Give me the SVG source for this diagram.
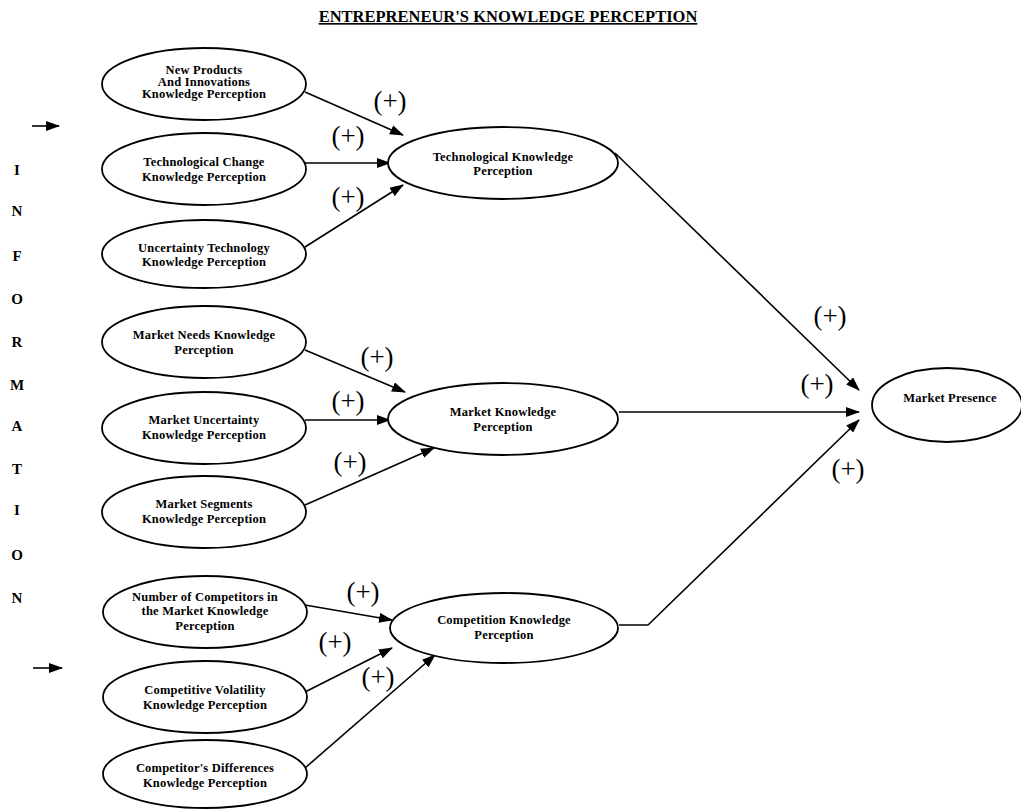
<svg xmlns="http://www.w3.org/2000/svg" width="1021" height="809" viewBox="0 0 1021 809">
<style>
.bg{fill:#fff}
.node ellipse{fill:#fff;stroke:#000;stroke-width:1.8}
.nt{font-family:"Liberation Serif","Times New Roman",serif;font-weight:bold;font-size:12.5px;letter-spacing:0.2px;fill:#000;text-anchor:middle}
.plus{font-family:"Liberation Serif","Times New Roman",serif;font-size:27px;fill:#000;text-anchor:middle}
.title{font-family:"Liberation Serif","Times New Roman",serif;font-weight:bold;font-size:16.5px;fill:#000;text-anchor:middle;text-decoration:underline}
.info{font-family:"Liberation Serif","Times New Roman",serif;font-weight:bold;font-size:15px;fill:#000;text-anchor:middle}
.conn line,.conn polyline{stroke:#000;stroke-width:1.6;fill:none;marker-end:url(#ah)}
</style>
<defs>
<marker id="ah" markerUnits="userSpaceOnUse" markerWidth="14" markerHeight="10" refX="13" refY="5" orient="auto">
<path d="M0,0 L14,5 L0,10 z" fill="#000"/>
</marker>
</defs>
<rect class="bg" x="0" y="0" width="1021" height="809"/>
<text class="title" x="508" y="22">ENTREPRENEUR'S  KNOWLEDGE PERCEPTION</text>

<g id="information">
<text class="info" x="17" y="175">I</text>
<text class="info" x="17" y="216">N</text>
<text class="info" x="17" y="261">F</text>
<text class="info" x="17" y="304">O</text>
<text class="info" x="17" y="347">R</text>
<text class="info" x="17" y="390">M</text>
<text class="info" x="17" y="431">A</text>
<text class="info" x="17" y="474">T</text>
<text class="info" x="17" y="515">I</text>
<text class="info" x="17" y="560">O</text>
<text class="info" x="17" y="603">N</text>
</g>

<g class="conn" id="connectors">
<line x1="32" y1="126" x2="59" y2="126"/>
<line x1="33" y1="668" x2="62" y2="668"/>
<line x1="305" y1="92" x2="403" y2="135"/>
<line x1="305" y1="163" x2="390" y2="163"/>
<line x1="305" y1="247" x2="403" y2="185"/>
<line x1="305" y1="350" x2="405" y2="392"/>
<line x1="305" y1="420" x2="390" y2="420"/>
<line x1="305" y1="505" x2="434" y2="448"/>
<line x1="305" y1="605" x2="392" y2="620"/>
<line x1="305" y1="692" x2="392" y2="648"/>
<line x1="305" y1="768" x2="435" y2="655"/>
<line x1="615" y1="153" x2="859" y2="390"/>
<line x1="619" y1="412" x2="859" y2="412"/>
<polyline points="619,625 648,625 859,420"/>
</g>

<g id="n_newproducts" class="node">
<ellipse cx="204" cy="84" rx="102" ry="36"/>
<text class="nt" x="204" y="74">New Products</text>
<text class="nt" x="204" y="86">And Innovations</text>
<text class="nt" x="204" y="98">Knowledge Perception</text>
</g>
<g id="n_techchange" class="node">
<ellipse cx="204" cy="169" rx="102" ry="36"/>
<text class="nt" x="204" y="166">Technological Change</text>
<text class="nt" x="204" y="181">Knowledge Perception</text>
</g>
<g id="n_uncertaintytech" class="node">
<ellipse cx="204" cy="254" rx="102" ry="34"/>
<text class="nt" x="204" y="252">Uncertainty Technology</text>
<text class="nt" x="204" y="266">Knowledge Perception</text>
</g>
<g id="n_marketneeds" class="node">
<ellipse cx="204" cy="342" rx="102" ry="36"/>
<text class="nt" x="204" y="339">Market Needs Knowledge</text>
<text class="nt" x="204" y="354">Perception</text>
</g>
<g id="n_marketuncertainty" class="node">
<ellipse cx="204" cy="428" rx="102" ry="36"/>
<text class="nt" x="204" y="424">Market Uncertainty</text>
<text class="nt" x="204" y="439">Knowledge Perception</text>
</g>
<g id="n_marketsegments" class="node">
<ellipse cx="204" cy="512" rx="102" ry="36"/>
<text class="nt" x="204" y="508">Market Segments</text>
<text class="nt" x="204" y="523">Knowledge Perception</text>
</g>
<g id="n_numcompetitors" class="node">
<ellipse cx="205" cy="612" rx="102" ry="36"/>
<text class="nt" x="205" y="601">Number of Competitors in</text>
<text class="nt" x="205" y="615">the Market Knowledge</text>
<text class="nt" x="205" y="630">Perception</text>
</g>
<g id="n_volatility" class="node">
<ellipse cx="205" cy="697" rx="102" ry="36"/>
<text class="nt" x="205" y="694">Competitive Volatility</text>
<text class="nt" x="205" y="709">Knowledge Perception</text>
</g>
<g id="n_differences" class="node">
<ellipse cx="205" cy="774" rx="102" ry="34"/>
<text class="nt" x="205" y="772">Competitor's Differences</text>
<text class="nt" x="205" y="787">Knowledge Perception</text>
</g>

<g id="n_techknowledge" class="node">
<ellipse cx="503" cy="163" rx="115" ry="36"/>
<text class="nt" x="503" y="161">Technological Knowledge</text>
<text class="nt" x="503" y="175">Perception</text>
</g>
<g id="n_marketknowledge" class="node">
<ellipse cx="503" cy="419" rx="115" ry="36"/>
<text class="nt" x="503" y="416">Market Knowledge</text>
<text class="nt" x="503" y="431">Perception</text>
</g>
<g id="n_competitionknowledge" class="node">
<ellipse cx="504" cy="628" rx="114" ry="35"/>
<text class="nt" x="504" y="624">Competition Knowledge</text>
<text class="nt" x="504" y="639">Perception</text>
</g>
<g id="n_marketpresence" class="node">
<ellipse cx="947" cy="405" rx="75" ry="37"/>
<text class="nt" x="950" y="402">Market Presence</text>
</g>

<g id="labels">
<text class="plus" x="390" y="110">(+)</text>
<text class="plus" x="348" y="145">(+)</text>
<text class="plus" x="348" y="206">(+)</text>
<text class="plus" x="377" y="366">(+)</text>
<text class="plus" x="348" y="410">(+)</text>
<text class="plus" x="350" y="471">(+)</text>
<text class="plus" x="363" y="601">(+)</text>
<text class="plus" x="335" y="651">(+)</text>
<text class="plus" x="378" y="686">(+)</text>
<text class="plus" x="830" y="325">(+)</text>
<text class="plus" x="817" y="393">(+)</text>
<text class="plus" x="848" y="478">(+)</text>
</g>
</svg>
